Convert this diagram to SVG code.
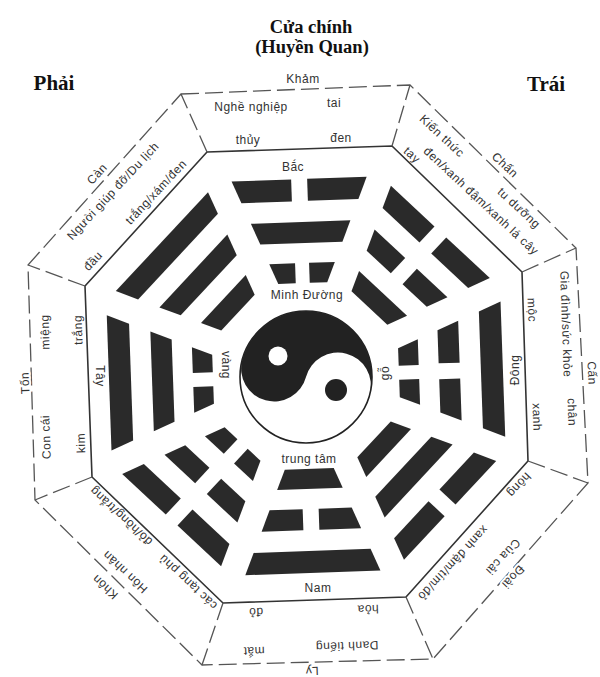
<svg xmlns="http://www.w3.org/2000/svg" width="600" height="677" viewBox="0 0 600 677">
<style>
.t{font-family:"Liberation Sans",Arial,sans-serif;font-size:12px;letter-spacing:0.5px;fill:#333;text-anchor:middle;dominant-baseline:central}
.h{font-family:"Liberation Serif","Times New Roman",serif;font-weight:bold;fill:#111;text-anchor:middle}
.o{paint-order:stroke;stroke:#fff;stroke-width:4px;stroke-linejoin:round}
.bar{fill:#2a2a2a}
.dash{fill:none;stroke:#555;stroke-width:1.3;stroke-dasharray:18 6}
.solid{fill:none;stroke:#333;stroke-width:1.6}
</style>
<defs>
<polygon id="s1" points="-67.6,-197 67.6,-197 58.5,-175 -58.5,-175"/>
<g id="b1"><polygon points="-67.6,-197 -8,-197 -8,-175 -58.5,-175"/><polygon points="8,-197 67.6,-197 58.5,-175 8,-175"/></g>
<polygon id="s2" points="-49.8,-154 49.8,-154 41.1,-133 -41.1,-133"/>
<g id="b2"><polygon points="-49.8,-154 -8,-154 -8,-133 -41.1,-133"/><polygon points="8,-154 49.8,-154 41.1,-133 8,-133"/></g>
<polygon id="s3" points="-32.8,-113 32.8,-113 24.5,-93 -24.5,-93"/>
<g id="b3"><polygon points="-32.8,-113 -7,-113 -7,-93 -24.5,-93"/><polygon points="7,-113 32.8,-113 24.5,-93 7,-93"/></g>
</defs>
<rect width="600" height="677" fill="#fff"/>

<g id="frame">
<polygon class="dash" points="181,94 410,85 576,248 588,483 433,659 202,665 35,500 28,265"/>
<polygon class="solid" points="207,152 392,146 522,272 528,461 406,597 223,603 92,477 85,286"/>
</g>
<g id="connectors">
<line class="dash" x1="207" y1="152" x2="181" y2="94"/>
<line class="dash" x1="392" y1="146" x2="410" y2="85"/>
<line class="dash" x1="522" y1="272" x2="576" y2="248"/>
<line class="dash" x1="528" y1="461" x2="588" y2="483"/>
<line class="dash" x1="406" y1="597" x2="433" y2="659"/>
<line class="dash" x1="223" y1="603" x2="202" y2="665"/>
<line class="dash" x1="92" y1="477" x2="35" y2="500"/>
<line class="dash" x1="85" y1="286" x2="28" y2="265"/>
</g>

<g id="trigrams" class="bar" transform="translate(306,376)">
<g id="tri-kham" transform="rotate(-2)"><use href="#b1"/><use href="#s2"/><use href="#b3"/></g>
<g id="tri-chan" transform="rotate(43)"><use href="#b1"/><use href="#b2"/><use href="#s3"/></g>
<g id="tri-can-r" transform="rotate(88)"><use href="#s1"/><use href="#b2"/><use href="#b3"/></g>
<g id="tri-doai" transform="rotate(133)"><use href="#b1"/><use href="#s2"/><use href="#s3"/></g>
<g id="tri-ly" transform="rotate(178)"><use href="#s1"/><use href="#b2"/><use href="#s3"/></g>
<g id="tri-khon" transform="rotate(223)"><use href="#b1"/><use href="#b2"/><use href="#b3"/></g>
<g id="tri-ton" transform="rotate(268)"><use href="#s1"/><use href="#s2"/><use href="#b3"/></g>
<g id="tri-can" transform="rotate(313)"><use href="#s1"/><use href="#s2"/><use href="#s3"/></g>
</g>

<g id="yinyang">
<circle cx="306" cy="377" r="66" fill="#fff" stroke="#222" stroke-width="1.6"/>
<path transform="translate(306,377) rotate(15)" fill="#222" d="M-66,0 A66,66 0 0 1 66,0 A33,33 0 0 0 0,0 A33,33 0 0 1 -66,0 Z"/>
<circle cx="278" cy="356" r="9.5" fill="#fff"/>
<circle cx="336" cy="390" r="11" fill="#222"/>
</g>

<g id="title">
<text class="h" x="311" y="33" font-size="18.5">Cửa chính</text>
<text class="h" x="312" y="53" font-size="18.5">(Huyền Quan)</text>
<text class="h" x="54" y="90" font-size="21">Phải</text>
<text class="h" x="546" y="91" font-size="21">Trái</text>
</g>

<g id="center-labels">
<text class="t" x="293" y="167">Bắc</text>
<text class="t" x="318" y="588">Nam</text>
<text class="t" transform="translate(100,376) rotate(90)">Tây</text>
<text class="t" transform="translate(515,370) rotate(-90)">Đông</text>
<text class="t" x="307" y="295">Minh Đường</text>
<text class="t" x="309" y="459">trung tâm</text>
<text class="t" transform="translate(226,365) rotate(90)">vàng</text>
<text class="t" transform="translate(385,373) rotate(-90)">gỗ</text>
</g>

<g id="sector-top">
<text class="t o" x="303" y="79">Khảm</text>
<text class="t" x="251" y="107">Nghề nghiệp</text>
<text class="t" x="334" y="103">tai</text>
<text class="t" x="248" y="140">thủy</text>
<text class="t" x="341" y="138">đen</text>
</g>

<g id="sector-upper-right">
<text class="t o" transform="translate(505,165) rotate(43)">Chấn</text>
<text class="t" transform="translate(442,136) rotate(43)">Kiến thức</text>
<text class="t" transform="translate(519,208) rotate(43)">tu dưỡng</text>
<text class="t" transform="translate(412,155) rotate(43)">tay</text>
<text class="t" transform="translate(481,201) rotate(43)">đen/xanh đậm/xanh lá cây</text>
</g>

<g id="sector-right">
<text class="t o" transform="translate(592,373) rotate(88)">Cấn</text>
<text class="t" transform="translate(566,324) rotate(88)">Gia đình/sức khỏe</text>
<text class="t" transform="translate(572,412) rotate(88)">chân</text>
<text class="t" transform="translate(532,310) rotate(88)">mộc</text>
<text class="t" transform="translate(537,417) rotate(88)">xanh</text>
</g>

<g id="sector-lower-right">
<text class="t o" transform="translate(513,577) rotate(133)">Đoài</text>
<text class="t" transform="translate(503,557) rotate(133)">Của cải</text>
<text class="t" transform="translate(519,485) rotate(133)">hông</text>
<text class="t" transform="translate(453,563) rotate(133)">xanh đậm/tím/đỏ</text>
</g>

<g id="sector-bottom">
<text class="t o" transform="translate(312,671) rotate(178)">Ly</text>
<text class="t" transform="translate(347,646) rotate(178)">Danh tiếng</text>
<text class="t" transform="translate(254,651) rotate(178)">mắt</text>
<text class="t" transform="translate(256,612) rotate(178)">đỏ</text>
<text class="t" transform="translate(368,609) rotate(178)">hỏa</text>
</g>

<g id="sector-lower-left">
<text class="t o" transform="translate(105,587) rotate(223)">Khôn</text>
<text class="t" transform="translate(125,572) rotate(223)">Hôn nhân</text>
<text class="t" transform="translate(121,516) rotate(223)">đỏ/hồng/trắng</text>
<text class="t" transform="translate(188,582) rotate(223)">các tạng phủ</text>
</g>

<g id="sector-left">
<text class="t o" transform="translate(25,383) rotate(-92)">Tốn</text>
<text class="t" transform="translate(45,332) rotate(-92)">miệng</text>
<text class="t" transform="translate(46,437) rotate(-92)">Con cái</text>
<text class="t" transform="translate(78,330) rotate(-92)">trắng</text>
<text class="t" transform="translate(81,443) rotate(-92)">kim</text>
</g>

<g id="sector-upper-left">
<text class="t o" transform="translate(97,174) rotate(-47)">Càn</text>
<text class="t" transform="translate(113,191) rotate(-47)">Người giúp đỡ/Du lịch</text>
<text class="t" transform="translate(156,192) rotate(-47)">trắng/xám/đen</text>
<text class="t" transform="translate(93,261) rotate(-47)">đầu</text>
</g>
</svg>
